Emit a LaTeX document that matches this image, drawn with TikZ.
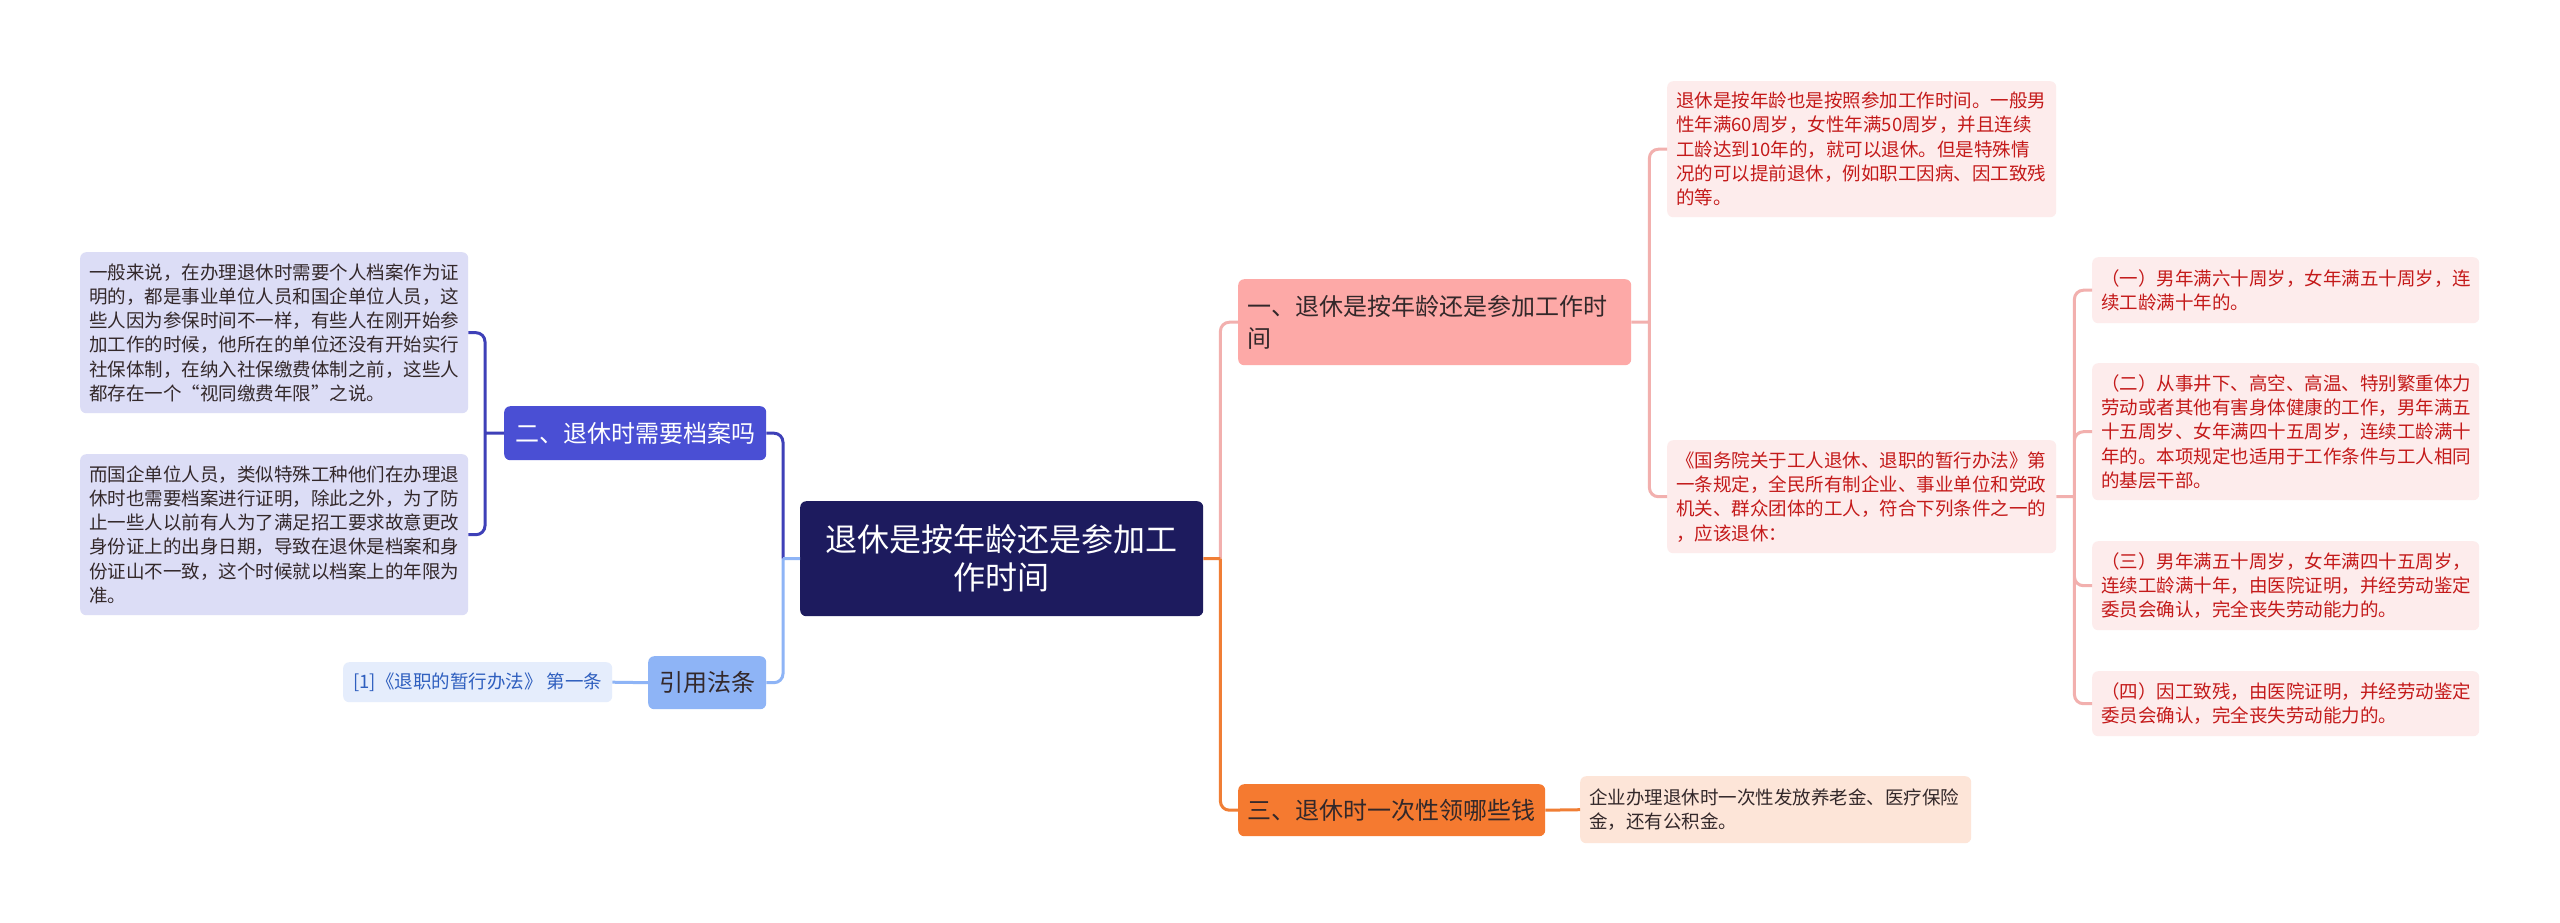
\documentclass[tikz,border=0pt]{standalone}
\usepackage{fontspec}
\setmainfont{Noto Sans CJK SC}
\definecolor{rootbg}{HTML}{1D1B5E}
\definecolor{onebg}{HTML}{FDA9A7}
\definecolor{oneln}{HTML}{F2B0AE}
\definecolor{oneleaf}{HTML}{FDECEC}
\definecolor{onetxt}{HTML}{C41A1A}
\definecolor{twobg}{HTML}{4A4FD4}
\definecolor{twoln}{HTML}{3E40B8}
\definecolor{twoleaf}{HTML}{DCDDF6}
\definecolor{threebg}{HTML}{F57A30}
\definecolor{threeln}{HTML}{F07E35}
\definecolor{threeleaf}{HTML}{FDE5D8}
\definecolor{refbg}{HTML}{8EB4F6}
\definecolor{refleaf}{HTML}{E5EDFC}
\definecolor{reftxt}{HTML}{2F5FBF}
\definecolor{darktxt}{HTML}{33282A}

\begin{document}
\begin{tikzpicture}[x=1pt,y=-1pt,
  box/.style={rounded corners=6pt,inner xsep=9pt,inner ysep=0pt,anchor=north west,align=left},
  leaf/.style={box,font=\fontsize{18.5}{24.3}\selectfont},
  topic/.style={box,font=\fontsize{24}{32}\selectfont},
  link/.style={line width=3pt,rounded corners=9pt}]
  \fill[white] (0,0) rectangle (2560,922);
  \useasboundingbox (0,0) rectangle (2560,922);

  % centre
  \node[box,fill=rootbg,text=white,align=center,text width=385pt,minimum height=115pt,font=\fontsize{32}{38}\selectfont](root) at (800,501){退休是按年龄还是参加工\\作时间};

  % branch one
  \node[topic,fill=onebg,text=darktxt,text width=375pt,minimum height=86pt](b1) at (1238,279){一、退休是按年龄还是参加工作时\\间};
  \node[leaf,fill=oneleaf,text=onetxt,text width=371pt,minimum height=136pt](l1a) at (1667,81){退休是按年龄也是按照参加工作时间。一般男\\性年满60周岁，女性年满50周岁，并且连续\\工龄达到10年的，就可以退休。但是特殊情\\况的可以提前退休，例如职工因病、因工致残\\的等。};
  \node[leaf,fill=oneleaf,text=onetxt,text width=371pt,minimum height=113pt](l1b) at (1667,440){《国务院关于工人退休、退职的暂行办法》第\\一条规定，全民所有制企业、事业单位和党政\\机关、群众团体的工人，符合下列条件之一的\\，应该退休：};
  \node[leaf,fill=oneleaf,text=onetxt,text width=369pt,minimum height=66pt](c1) at (2092,257){（一）男年满六十周岁，女年满五十周岁，连\\续工龄满十年的。};
  \node[leaf,fill=oneleaf,text=onetxt,text width=369pt,minimum height=137pt](c2) at (2092,363){（二）从事井下、高空、高温、特别繁重体力\\劳动或者其他有害身体健康的工作，男年满五\\十五周岁、女年满四十五周岁，连续工龄满十\\年的。本项规定也适用于工作条件与工人相同\\的基层干部。};
  \node[leaf,fill=oneleaf,text=onetxt,text width=369pt,minimum height=89pt](c3) at (2092,541){（三）男年满五十周岁，女年满四十五周岁，\\连续工龄满十年，由医院证明，并经劳动鉴定\\委员会确认，完全丧失劳动能力的。};
  \node[leaf,fill=oneleaf,text=onetxt,text width=369pt,minimum height=65pt](c4) at (2092,671){（四）因工致残，由医院证明，并经劳动鉴定\\委员会确认，完全丧失劳动能力的。};

  % branch three
  \node[topic,fill=threebg,text=darktxt,minimum width=307pt,minimum height=52pt](b3) at (1238,784){三、退休时一次性领哪些钱};
  \node[leaf,fill=threeleaf,text=darktxt,text width=373pt,minimum height=67pt](l3a) at (1580,776){企业办理退休时一次性发放养老金、医疗保险\\金，还有公积金。};

  % branch two
  \node[topic,fill=twobg,text=white,minimum width=262pt,minimum height=54pt](b2) at (504,406){二、退休时需要档案吗};
  \node[leaf,fill=twoleaf,text=darktxt,text width=370pt,minimum height=161pt](l2a) at (80,252){一般来说，在办理退休时需要个人档案作为证\\明的，都是事业单位人员和国企单位人员，这\\些人因为参保时间不一样，有些人在刚开始参\\加工作的时候，他所在的单位还没有开始实行\\社保体制，在纳入社保缴费体制之前，这些人\\都存在一个“视同缴费年限”之说。};
  \node[leaf,fill=twoleaf,text=darktxt,text width=370pt,minimum height=161pt](l2b) at (80,454){而国企单位人员，类似特殊工种他们在办理退\\休时也需要档案进行证明，除此之外，为了防\\止一些人以前有人为了满足招工要求故意更改\\身份证上的出身日期，导致在退休是档案和身\\份证山不一致，这个时候就以档案上的年限为\\准。};

  % citation
  \node[topic,fill=refbg,text=darktxt,minimum width=118pt,minimum height=53pt](b4) at (648,656){引用法条};
  \node[leaf,fill=refleaf,text=reftxt,minimum width=269pt,minimum height=40pt](l4a) at (343,662){[1]《退职的暂行办法》 第一条};

  % junctions
  \coordinate (jr) at ([xshift=17pt]root.east);
  \coordinate (jl) at ([xshift=-17pt]root.west);
  \coordinate (j1) at ([xshift=18pt]b1.east);
  \coordinate (jb) at ([xshift=18pt]l1b.east);
  \coordinate (j2) at ([xshift=-19pt]b2.west);

  \draw[link,oneln](jr) |- (b1.west);
  \draw[link,threeln](root.east) -- (jr) (jr) |- (b3.west);
  \draw[link,twoln](jl) |- (b2.east);
  \draw[link,refbg](root.west) -- (jl) (jl) |- (b4.east);
  \draw[link,oneln](b1.east) -- (j1) (j1) |- (l1a.west) (j1) |- (l1b.west);
  \draw[link,oneln](l1b.east) -- (jb) (jb) |- (c1.west) (jb) |- (c2.west) (jb) |- (c3.west) (jb) |- (c4.west);
  \draw[link,threeln](b3.east) -- (l3a.west);
  \draw[link,twoln](b2.west) -- (j2) (j2) |- (l2a.east) (j2) |- (l2b.east);
  \draw[link,refbg](b4.west) -- (l4a.east);
\end{tikzpicture}
\end{document}
